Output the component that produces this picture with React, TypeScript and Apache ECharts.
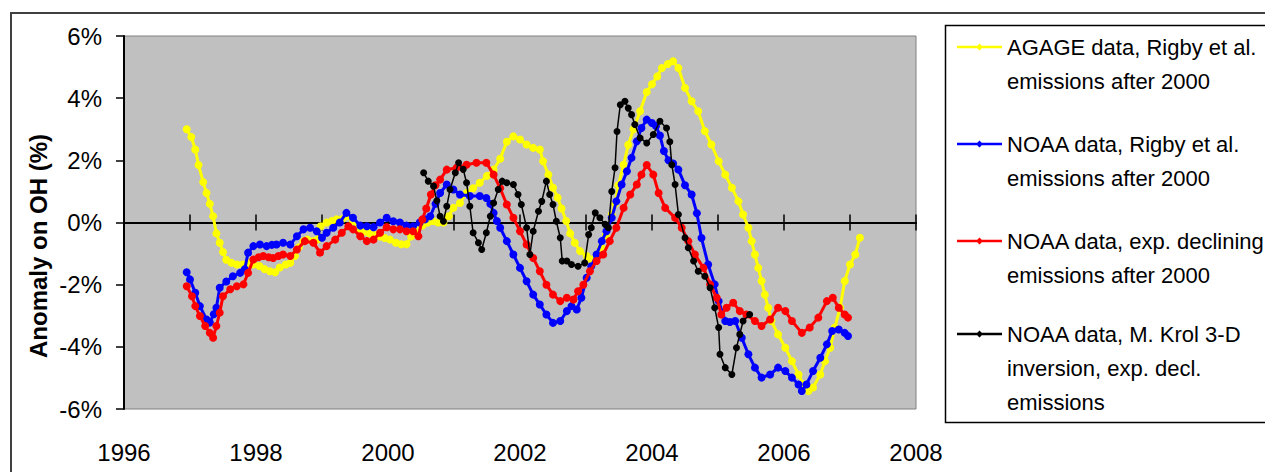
import React, { useEffect, useRef } from "react";
import * as echarts from "echarts";

const agage: [number, number][] = [
  [1996.95, 3.0], [1997.02, 2.75], [1997.08, 2.35], [1997.13, 1.85], [1997.2, 1.3], [1997.25, 0.95],
  [1997.3, 0.6], [1997.35, 0.2], [1997.4, -0.35], [1997.45, -0.65], [1997.5, -0.95], [1997.55, -1.2],
  [1997.63, -1.3], [1997.71, -1.35], [1997.8, -1.35], [1997.88, -1.3], [1997.96, -1.35], [1998.05, -1.4],
  [1998.13, -1.5], [1998.21, -1.57], [1998.29, -1.6], [1998.36, -1.45], [1998.45, -1.35], [1998.52, -1.3],
  [1998.59, -1.08], [1998.65, -0.8], [1998.72, -0.6], [1998.78, -0.55], [1998.87, -0.6], [1998.93, -0.55],
  [1998.98, -0.12], [1999.07, 0.0], [1999.15, 0.05], [1999.22, 0.1], [1999.3, 0.1], [1999.38, 0.2],
  [1999.47, 0.05], [1999.55, -0.2], [1999.63, -0.3], [1999.72, -0.35], [1999.8, -0.4], [1999.88, -0.45],
  [1999.95, -0.5], [2000.03, -0.55], [2000.12, -0.65], [2000.2, -0.7], [2000.28, -0.7], [2000.35, -0.45],
  [2000.43, -0.25], [2000.52, -0.1], [2000.6, 0.0], [2000.68, 0.05], [2000.76, 0.0], [2000.84, 0.0],
  [2000.92, 0.2], [2000.99, 0.47], [2001.09, 0.63], [2001.19, 0.95], [2001.29, 1.1], [2001.39, 1.28],
  [2001.5, 1.5], [2001.6, 1.7], [2001.7, 2.05], [2001.8, 2.6], [2001.9, 2.77], [2002.0, 2.67],
  [2002.1, 2.51], [2002.2, 2.4], [2002.3, 2.35], [2002.35, 1.97], [2002.43, 1.54], [2002.5, 1.12],
  [2002.57, 0.8], [2002.63, 0.45], [2002.7, 0.05], [2002.76, -0.35], [2002.83, -0.65], [2002.91, -0.92],
  [2003.01, -1.08], [2003.08, -1.19], [2003.16, -1.03], [2003.23, -0.8], [2003.3, -0.4], [2003.39, 0.26],
  [2003.44, 0.6], [2003.49, 1.2], [2003.57, 1.86], [2003.64, 2.5], [2003.72, 3.0], [2003.82, 3.58],
  [2003.92, 4.2], [2004.0, 4.45], [2004.08, 4.7], [2004.15, 4.97], [2004.24, 5.1], [2004.32, 5.19],
  [2004.4, 4.97], [2004.5, 4.33], [2004.6, 3.9], [2004.7, 3.58], [2004.8, 2.94], [2004.9, 2.51],
  [2005.01, 1.97], [2005.11, 1.54], [2005.21, 1.12], [2005.31, 0.68], [2005.38, 0.26], [2005.46, -0.17],
  [2005.51, -0.6], [2005.56, -1.03], [2005.61, -1.46], [2005.66, -1.88], [2005.71, -2.32], [2005.76, -2.74],
  [2005.81, -3.17], [2005.91, -3.6], [2006.02, -4.03], [2006.12, -4.46], [2006.22, -4.89], [2006.29, -5.2],
  [2006.37, -5.42], [2006.44, -5.31], [2006.55, -4.89], [2006.62, -4.46], [2006.7, -4.03], [2006.77, -3.38],
  [2006.85, -2.74], [2006.92, -1.88], [2007.0, -1.35], [2007.08, -1.03], [2007.15, -0.49],
];

const noaaRigby: [number, number][] = [
  [1996.95, -1.6], [1997.0, -1.83], [1997.08, -2.26], [1997.15, -2.69], [1997.25, -3.12], [1997.3, -3.22],
  [1997.36, -2.95], [1997.4, -2.74], [1997.45, -2.1], [1997.55, -1.9], [1997.65, -1.73], [1997.76, -1.62],
  [1997.83, -1.5], [1997.88, -0.97], [1997.96, -0.76], [1998.06, -0.71], [1998.16, -0.76], [1998.24, -0.72],
  [1998.31, -0.71], [1998.41, -0.65], [1998.52, -0.71], [1998.62, -0.44], [1998.72, -0.22], [1998.82, -0.17],
  [1998.92, -0.28], [1999.0, -0.49], [1999.07, -0.33], [1999.17, -0.17], [1999.27, 0.0], [1999.37, 0.31],
  [1999.47, 0.15], [1999.58, -0.1], [1999.68, -0.12], [1999.78, -0.15], [1999.88, 0.0], [1999.98, 0.15],
  [2000.08, 0.04], [2000.18, 0.0], [2000.28, -0.1], [2000.38, -0.12], [2000.48, 0.0], [2000.56, 0.1],
  [2000.64, 0.2], [2000.72, 0.6], [2000.79, 0.95], [2000.89, 1.22], [2000.99, 1.06], [2001.09, 0.9],
  [2001.24, 0.85], [2001.39, 0.85], [2001.49, 0.79], [2001.55, 0.6], [2001.6, 0.31], [2001.65, 0.05],
  [2001.7, -0.17], [2001.8, -0.6], [2001.9, -1.03], [2002.0, -1.46], [2002.1, -1.89], [2002.2, -2.32],
  [2002.3, -2.64], [2002.4, -2.96], [2002.5, -3.23], [2002.61, -3.17], [2002.71, -2.85], [2002.78, -2.69],
  [2002.86, -2.8], [2002.93, -2.42], [2003.01, -1.78], [2003.08, -1.41], [2003.16, -1.03], [2003.24, -0.6],
  [2003.31, -0.28], [2003.39, 0.15], [2003.46, 0.68], [2003.54, 1.22], [2003.62, 1.65], [2003.69, 2.08],
  [2003.77, 2.61], [2003.84, 3.04], [2003.92, 3.31], [2004.0, 3.2], [2004.06, 3.1], [2004.12, 2.8],
  [2004.18, 2.3], [2004.25, 2.0], [2004.32, 1.9], [2004.4, 1.7], [2004.5, 1.2], [2004.6, 0.9],
  [2004.68, 0.3], [2004.75, -0.5], [2004.85, -1.35], [2004.95, -1.99], [2005.01, -2.53], [2005.11, -3.17],
  [2005.18, -3.2], [2005.26, -3.17], [2005.36, -3.71], [2005.46, -4.24], [2005.56, -4.67], [2005.66, -4.99],
  [2005.79, -4.89], [2005.91, -4.67], [2006.02, -4.78], [2006.12, -4.99], [2006.22, -5.21], [2006.27, -5.42],
  [2006.34, -5.21], [2006.44, -4.78], [2006.55, -4.35], [2006.65, -3.92], [2006.73, -3.49], [2006.83, -3.44],
  [2006.92, -3.55], [2006.97, -3.65],
];

const noaaExp: [number, number][] = [
  [1996.95, -2.05], [1997.03, -2.37], [1997.08, -2.69], [1997.15, -3.01], [1997.23, -3.33], [1997.3, -3.55],
  [1997.35, -3.71], [1997.4, -3.33], [1997.45, -2.9], [1997.5, -2.37], [1997.61, -2.15], [1997.71, -2.05],
  [1997.81, -1.99], [1997.88, -1.62], [1997.96, -1.19], [1998.04, -1.12], [1998.11, -1.08], [1998.19, -1.12],
  [1998.26, -1.14], [1998.34, -1.08], [1998.41, -1.03], [1998.52, -1.08], [1998.62, -0.87], [1998.74, -0.6],
  [1998.87, -0.65], [1998.97, -0.97], [1999.07, -0.76], [1999.2, -0.55], [1999.3, -0.33], [1999.4, -0.12],
  [1999.47, -0.22], [1999.58, -0.44], [1999.68, -0.6], [1999.78, -0.55], [1999.88, -0.33], [1999.98, -0.15],
  [2000.08, -0.22], [2000.18, -0.22], [2000.28, -0.28], [2000.38, -0.28], [2000.46, -0.44], [2000.52, 0.1],
  [2000.58, 0.45], [2000.65, 0.9], [2000.72, 1.2], [2000.79, 1.38], [2000.89, 1.7], [2001.04, 1.76],
  [2001.19, 1.86], [2001.34, 1.92], [2001.49, 1.92], [2001.6, 1.54], [2001.7, 1.1], [2001.8, 0.58],
  [2001.9, 0.15], [2002.0, -0.28], [2002.1, -0.71], [2002.2, -1.14], [2002.3, -1.57], [2002.4, -2.0],
  [2002.5, -2.32], [2002.61, -2.53], [2002.71, -2.42], [2002.81, -2.48], [2002.88, -2.21], [2002.96, -2.0],
  [2003.06, -1.57], [2003.16, -1.24], [2003.26, -1.03], [2003.36, -0.6], [2003.46, -0.17], [2003.57, 0.47],
  [2003.67, 0.9], [2003.77, 1.22], [2003.84, 1.54], [2003.92, 1.85], [2004.02, 1.54], [2004.1, 0.95],
  [2004.2, 0.47], [2004.35, 0.15], [2004.45, -0.17], [2004.55, -0.6], [2004.65, -1.03], [2004.78, -1.46],
  [2004.88, -1.99], [2004.98, -2.42], [2005.05, -2.96], [2005.13, -2.74], [2005.23, -2.58], [2005.33, -2.85],
  [2005.43, -2.96], [2005.56, -3.17], [2005.66, -3.33], [2005.79, -3.12], [2005.91, -2.74], [2006.02, -2.85],
  [2006.12, -3.17], [2006.27, -3.55], [2006.39, -3.38], [2006.52, -3.06], [2006.65, -2.53], [2006.74, -2.42],
  [2006.83, -2.74], [2006.92, -2.96], [2006.97, -3.06],
];

const noaaKrol: [number, number][] = [
  [2000.54, 1.6], [2000.61, 1.33], [2000.69, 1.17], [2000.74, 0.7], [2000.79, 0.2], [2000.84, 0.04],
  [2000.89, 0.52], [2000.94, 1.06], [2001.02, 1.6], [2001.07, 1.92], [2001.14, 1.71], [2001.19, 1.28],
  [2001.24, 0.52], [2001.29, -0.33], [2001.37, -0.65], [2001.42, -0.87], [2001.49, -0.33], [2001.55, 0.2],
  [2001.6, 0.63], [2001.67, 1.06], [2001.73, 1.33], [2001.8, 1.28], [2001.9, 1.22], [2001.97, 0.9],
  [2002.02, 0.58], [2002.1, -0.17], [2002.15, -1.03], [2002.2, -0.28], [2002.28, 0.36], [2002.33, 0.68],
  [2002.4, 1.33], [2002.45, 0.9], [2002.5, 0.58], [2002.55, 0.04], [2002.61, -0.49], [2002.64, -1.24],
  [2002.71, -1.24], [2002.78, -1.35], [2002.88, -1.41], [2002.98, -1.3], [2003.04, -0.39], [2003.08, -0.17],
  [2003.14, 0.31], [2003.21, 0.15], [2003.29, -0.06], [2003.34, -0.17], [2003.39, 1.0], [2003.44, 1.76],
  [2003.47, 2.93], [2003.52, 3.79], [2003.59, 3.9], [2003.64, 3.68], [2003.69, 3.47], [2003.74, 3.15],
  [2003.82, 2.72], [2003.92, 2.56], [2004.02, 2.83], [2004.12, 3.26], [2004.22, 3.04], [2004.27, 2.6],
  [2004.3, 1.86], [2004.35, 1.22], [2004.4, 0.26], [2004.5, -0.49], [2004.55, -0.81], [2004.63, -1.24],
  [2004.7, -1.57], [2004.8, -1.73], [2004.88, -2.1], [2004.95, -2.74], [2005.01, -3.38], [2005.03, -4.24],
  [2005.11, -4.67], [2005.21, -4.89], [2005.28, -4.03], [2005.33, -3.6], [2005.38, -3.17], [2005.48, -2.96],
];

const seriesNames = [
  "AGAGE data, Rigby et al.\nemissions after 2000",
  "NOAA data, Rigby et al.\nemissions after 2000",
  "NOAA data, exp. declining\nemissions after 2000",
  "NOAA data, M. Krol 3-D\ninversion, exp. decl.\nemissions",
];
const seriesColors = ["#ffff00", "#0000ff", "#ff0000", "#000000"];
const seriesData = [agage, noaaRigby, noaaExp, noaaKrol];
const yAxisTitle = "Anomaly on OH (%)";

const FONT = "'Liberation Sans', Arial, Helvetica, sans-serif";
const LEGEND_LINE_H = 34;
const ICON_W = 45;
const ICON_H = 76;

// Legend icon: a line with a small diamond, placed at the level of the first text line.
function legendIcon(lines: number): string {
  const cy = ICON_H / 2 - (LEGEND_LINE_H / 2) * (lines - 1);
  const t = cy - 1.25;
  const b = cy + 1.25;
  return (
    `path://M0,0h0.05v0.05h-0.05zM${ICON_W},${ICON_H}h-0.05v-0.05h0.05z` +
    `M0,${t}H${ICON_W}V${b}H0z` +
    `M22.5,${cy - 3.5}L26,${cy}L22.5,${cy + 3.5}L19,${cy}z`
  );
}

export default function App() {
  const ref = useRef<HTMLDivElement>(null);
  useEffect(() => {
    if (!ref.current) return;
    const chart = echarts.init(ref.current, undefined, { renderer: "svg" });
    const lineCount = (s: string) => s.split("\n").length;
    const xBase = {
      type: "value" as const,
      min: 1996,
      max: 2008,
      splitLine: { show: false },
    };
    chart.setOption({
      animation: false,
      backgroundColor: "#ffffff",
      textStyle: { fontFamily: FONT },
      grid: {
        left: 124,
        top: 36,
        width: 792,
        height: 373,
        show: true,
        backgroundColor: "#c0c0c0",
        borderColor: "#808080",
        borderWidth: 1,
        outerBoundsMode: "none",
      },
      xAxis: [
        {
          ...xBase,
          interval: 2,
          position: "bottom",
          axisLine: { show: false, onZero: false },
          axisTick: { show: false },
          axisLabel: {
            fontSize: 24,
            color: "#000",
            margin: 31,
            fontFamily: FONT,
            formatter: (v: number) => String(v),
          },
        },
        {
          ...xBase,
          interval: 1,
          axisLine: { show: true, onZero: true, onZeroAxisIndex: 0, lineStyle: { color: "#000", width: 2 } },
          axisTick: { show: true, length: 8, lineStyle: { color: "#000", width: 1.5 } },
          axisLabel: { show: false },
        },
        {
          ...xBase,
          interval: 1,
          axisLine: { show: true, onZero: true, onZeroAxisIndex: 0, lineStyle: { color: "#000", width: 2 } },
          axisTick: { show: true, inside: true, length: 8, lineStyle: { color: "#000", width: 1.5 } },
          axisLabel: { show: false },
        },
      ],
      yAxis: {
        type: "value",
        min: -6,
        max: 6,
        interval: 2,
        axisLine: { show: true, onZero: false, lineStyle: { color: "#000", width: 2 } },
        axisTick: { show: true, length: 8, lineStyle: { color: "#000", width: 1.5 } },
        axisLabel: {
          fontSize: 24,
          color: "#000",
          margin: 22,
          fontFamily: FONT,
          formatter: (v: number) => `${v}%`,
        },
        splitLine: { show: false },
      },
      legend: {
        orient: "vertical",
        left: 957,
        top: 26,
        padding: 0,
        itemWidth: ICON_W,
        itemHeight: ICON_H,
        itemGap: 21,
        selectedMode: false,
        textStyle: { fontSize: 22, lineHeight: LEGEND_LINE_H, color: "#000", fontFamily: FONT },
        data: seriesNames.map((name, i) => ({
          name,
          icon: legendIcon(lineCount(name)),
          itemStyle: { color: seriesColors[i], borderWidth: 0 },
        })),
      },
      graphic: [
        {
          type: "rect",
          silent: true,
          z: -10,
          shape: { x: 11, y: 13, width: 1300, height: 500 },
          style: { fill: "none", stroke: "#404040", lineWidth: 2 },
        },
        {
          type: "rect",
          silent: true,
          shape: { x: 945.5, y: 25.5, width: 400, height: 397 },
          style: { fill: "none", stroke: "#000", lineWidth: 1.5 },
        },
        {
          type: "text",
          silent: true,
          x: 38,
          y: 246,
          rotation: Math.PI / 2,
          style: {
            text: yAxisTitle,
            fontSize: 24,
            fontWeight: "bold",
            fontFamily: FONT,
            fill: "#000",
            align: "center",
            verticalAlign: "middle",
          },
        },
      ],
      series: seriesData.map((data, i) => ({
        name: seriesNames[i],
        type: "line",
        xAxisIndex: 0,
        yAxisIndex: 0,
        data,
        symbol: "circle",
        symbolSize: i === 3 ? 7 : 8,
        showSymbol: true,
        showAllSymbol: true,
        color: seriesColors[i],
        itemStyle: { color: seriesColors[i] },
        lineStyle: { color: seriesColors[i], width: i === 3 ? 1.5 : 3 },
        z: 2 + i,
      })),
    });
    return () => chart.dispose();
  }, []);
  return (
    <div
      ref={ref}
      style={{ position: "fixed", left: 0, top: 0, width: 1265, height: 472 }}
    />
  );
}
